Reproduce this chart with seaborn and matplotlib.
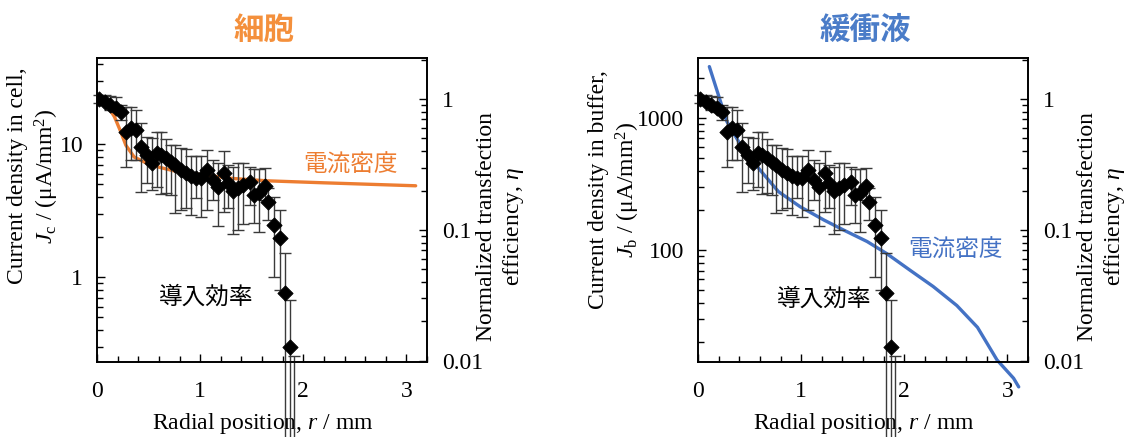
import matplotlib
matplotlib.use("Agg")
import matplotlib.pyplot as plt
from matplotlib import ticker
import numpy as np
import pandas as pd
import seaborn as sns

# Datos leidos de la figura
# eficiencia de transfeccion normalizada (puntos con barras de error)
r_pts = [0.02, 0.08, 0.13, 0.18, 0.23, 0.28, 0.33, 0.38, 0.43, 0.48,
         0.53, 0.58, 0.62, 0.67, 0.72, 0.76, 0.81, 0.86, 0.91, 0.96,
         1.01, 1.07, 1.12, 1.17, 1.23, 1.27, 1.32, 1.37, 1.42, 1.48,
         1.52, 1.57, 1.63, 1.66, 1.72, 1.77, 1.82, 1.87, 1.91]
eta = [1.00, 0.95, 0.90, 0.85, 0.79, 0.56, 0.60, 0.58, 0.43, 0.374,
       0.327, 0.385, 0.374, 0.355, 0.332, 0.313, 0.287, 0.271, 0.258, 0.248,
       0.248, 0.287, 0.241, 0.212, 0.271, 0.230, 0.200, 0.208, 0.221, 0.234,
       0.185, 0.191, 0.217, 0.164, 0.109, 0.0864, 0.033, 0.0128, 0.003]
eta_hi = [1.073, 1.073, 1.054, 1.036, 0.90, 0.873, 0.873, 0.824, 0.652, 0.510,
          0.501, 0.563, 0.563, 0.493, 0.446, 0.446, 0.420, 0.413, 0.367, 0.367,
          0.367, 0.408, 0.342, 0.323, 0.401, 0.313, 0.304, 0.327, 0.327, 0.304,
          0.291, 0.291, 0.296, 0.208, 0.180, 0.142, 0.0664, 0.0292, 0.0108]
eta_lo = [0.927, 0.900, 0.824, 0.796, 0.692, 0.301, 0.342, 0.342, 0.196, 0.230,
          0.202, 0.214, 0.188, 0.191, 0.185, 0.134, 0.142, 0.146, 0.130, 0.175,
          0.126, 0.142, 0.169, 0.107, 0.138, 0.146, 0.0932, 0.100, 0.112, 0.155,
          0.114, 0.097, 0.169, 0.119, 0.044, 0.035, 0.0001, 0.0001, 0.0001]

# densidad de corriente en la celula (uA/mm2)
r_cell = [0.12, 0.17, 0.23, 0.28, 0.36, 0.52, 0.78, 1.04, 1.31, 1.64, 2.19, 3.09]
j_cell = [18.5, 16.0, 12.4, 9.8, 8.0, 6.95, 6.2, 5.85, 5.52, 5.30, 5.12, 4.86]

# densidad de corriente en el tampon (uA/mm2)
r_buf = [0.11, 0.28, 0.44, 0.60, 0.78, 0.99, 1.22, 1.41, 1.64, 1.83, 2.06,
         2.28, 2.51, 2.71, 2.90, 3.06, 3.11]
j_buf = [2450, 940, 575, 405, 277, 213, 169, 142, 116, 94, 70,
         53, 38, 26, 14.7, 10.7, 9.2]

sns.set_style("ticks")
plt.rcParams['font.family'] = ['Liberation Serif', 'Noto Sans CJK JP']
plt.rcParams['mathtext.fontset'] = 'custom'
plt.rcParams['mathtext.rm'] = 'Liberation Serif'
plt.rcParams['mathtext.it'] = 'Liberation Serif:italic'
plt.rcParams['font.size'] = 17
plt.rcParams['text.color'] = 'black'
plt.rcParams['axes.labelcolor'] = 'black'
plt.rcParams['xtick.color'] = 'black'
plt.rcParams['ytick.color'] = 'black'

FS = 17
JP = 'Noto Sans CJK JP'
W, H = 1127, 437
fig = plt.figure(figsize=(W / 100, H / 100), dpi=100)

df_eta = pd.DataFrame({'r': r_pts, 'eta': eta})


def panel(x0, r_j, j_vals, color, jlim, jticks, jlabel, title, title_color,
          curve_xy, eff_xy, ylab_x, ylab_y, eta_lab_x):
    ax = fig.add_axes([x0 / W, (H - 362) / H, 330 / W, 304 / H])
    sns.lineplot(x=r_j, y=j_vals, ax=ax, color=color, lw=2.4, sort=False)
    for ln in ax.lines:
        ln.set_clip_on(False)
    ax.set_yscale('log')
    ax.set_ylim(*jlim)
    ax.set_xlim(0, 3.2)
    ax.set_yticks(jticks, [str(t) for t in jticks])
    ax.yaxis.set_minor_locator(ticker.LogLocator(subs=np.arange(2, 10)))
    ax.yaxis.set_minor_formatter(ticker.NullFormatter())
    ax.set_xticks([0, 1, 2, 3], ['0', '1', '2', '3'])
    ax.xaxis.set_minor_locator(ticker.MultipleLocator(0.2))
    ax.tick_params(which='both', direction='in', width=1, labelsize=FS)
    ax.tick_params(which='major', length=6)
    ax.tick_params(which='minor', length=4)
    ax.tick_params(axis='y', pad=10)
    ax.tick_params(axis='x', pad=14)
    ax.set_xlabel('Radial position, $r$ / mm', fontsize=FS)
    ax.xaxis.set_label_coords(0.503, -0.16)
    ax.set_ylabel('')
    ax.text(curve_xy[0], curve_xy[1], '電流密度', color=color, fontsize=17,
            family=JP, ha='center', va='center')

    ax2 = ax.twinx()
    eb = ax2.errorbar(r_pts, eta,
                      yerr=[np.array(eta) - np.array(eta_lo),
                            np.array(eta_hi) - np.array(eta)],
                      fmt='none', ecolor='#3a3a3a', elinewidth=1,
                      capsize=4, capthick=1)
    for art in eb.lines[1]:
        art.set_clip_on(False)
    for art in eb.lines[2]:
        art.set_clip_on(False)
    sns.scatterplot(data=df_eta, x='r', y='eta', ax=ax2, marker='D', s=60,
                    color='black', edgecolor='black', zorder=5)
    ax2.set_yscale('log')
    ax2.set_ylim(0.0098, 2.06)
    ax2.set_yticks([0.01, 0.1, 1], ['0.01', '0.1', '1'])
    ax2.yaxis.set_minor_locator(ticker.LogLocator(subs=np.arange(2, 10)))
    ax2.yaxis.set_minor_formatter(ticker.NullFormatter())
    ax2.tick_params(which='both', direction='in', width=1, labelsize=FS, pad=11)
    ax2.tick_params(which='major', length=6)
    ax2.tick_params(which='minor', length=4)
    ax2.set_ylabel('')
    ax2.set_xlim(0, 3.2)
    ax2.text(eff_xy[0], eff_xy[1], '導入効率', color='black', fontsize=17,
             family=JP, ha='center', va='center')

    for a in (ax, ax2):
        for s in a.spines.values():
            s.set_linewidth(1.2)
            s.set_color('black')

    fig.text(ylab_x / W, (H - ylab_y) / H, jlabel, rotation=90,
             ha='center', va='center', fontsize=FS, linespacing=1.2)
    fig.text(eta_lab_x / W, (H - 227) / H,
             'Normalized transfection\nefficiency, $\\eta$', rotation=90,
             ha='center', va='center', fontsize=FS, linespacing=1.25)
    fig.text((x0 + 167) / W, (H - 30) / H, title, color=title_color,
             fontsize=22, weight='bold', family=JP, ha='center', va='center')


panel(97, r_cell, j_cell, '#ED7D31', (0.23, 44.4), [1, 10],
      'Current density in cell,\n$J_\\mathrm{c}$ / (μA/mm$^\\mathrm{2}$)',
      '細胞', '#F4903C', (2.46, 6.95), (1.06, 0.0307), 34, 176, 501)
panel(698, r_buf, j_buf, '#4472C4', (14.2, 2846), [100, 1000],
      'Current density in buffer,\n$J_\\mathrm{b}$ / (μA/mm$^\\mathrm{2}$)',
      '緩衝液', '#4A7CC8', (2.50, 100), (1.22, 0.0294), 615, 190, 1102)

fig.savefig('out.png', dpi=100)
